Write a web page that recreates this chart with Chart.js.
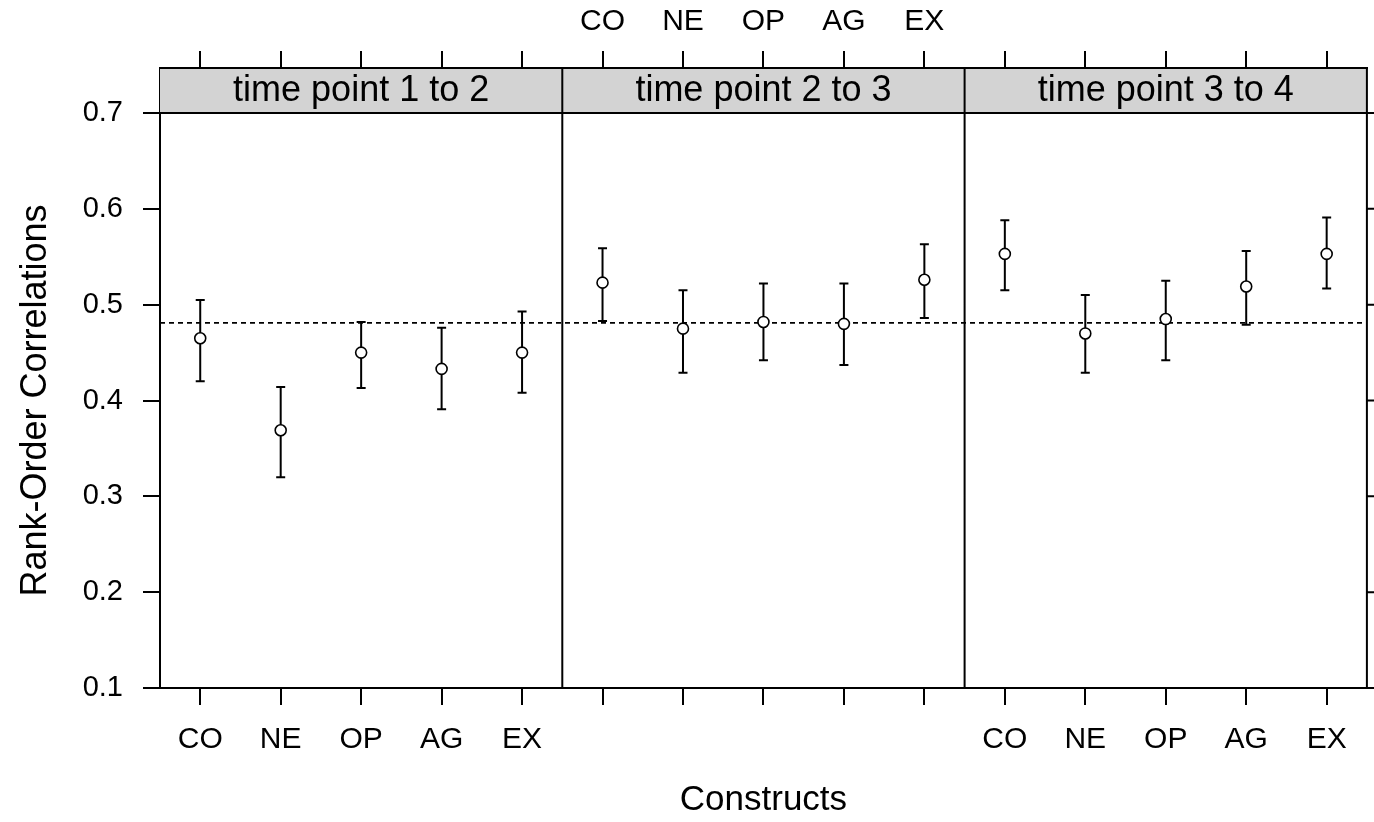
<!DOCTYPE html>
<html>
<head>
<meta charset="utf-8">
<script src="https://cdn.jsdelivr.net/npm/chart.js@4.4.1/dist/chart.umd.min.js"></script>
<style>
  html, body { margin: 0; padding: 0; background: #fff; }
  #wrap { width: 1374px; height: 822px; }
</style>
</head>
<body>
<div id="wrap"><canvas id="rankChart" width="1374" height="822"></canvas></div>
<script>
const constructs = ["CO", "NE", "OP", "AG", "EX"];
const panels = ["time point 1 to 2", "time point 2 to 3", "time point 3 to 4"];

// point estimates and interval bounds per panel
const r12 = [0.465, 0.369, 0.450, 0.433, 0.450];
const lo12 = [0.420, 0.320, 0.413, 0.391, 0.408];
const hi12 = [0.505, 0.414, 0.482, 0.476, 0.493];

const r23 = [0.523, 0.475, 0.482, 0.480, 0.526];
const lo23 = [0.483, 0.429, 0.442, 0.437, 0.486];
const hi23 = [0.559, 0.515, 0.522, 0.522, 0.563];

const r34 = [0.553, 0.470, 0.485, 0.519, 0.553];
const lo34 = [0.515, 0.429, 0.442, 0.479, 0.517];
const hi34 = [0.588, 0.510, 0.525, 0.556, 0.591];

const meanLine = 0.481;
const yTicks = [0.1, 0.2, 0.3, 0.4, 0.5, 0.6, 0.7];
const yTitle = "Rank-Order Correlations";

const labels = [...constructs, ...constructs, ...constructs];
const values = [...r12, ...r23, ...r34];
const lows = [...lo12, ...lo23, ...lo34];
const highs = [...hi12, ...hi23, ...hi34];

const FONT = '"Liberation Sans", Arial, sans-serif';
const INK = "#000";

const mid = (xs, a, b) => (xs.getPixelForValue(a) + xs.getPixelForValue(b)) / 2;

const errorBars = {
  id: "errorBars",
  beforeDatasetsDraw(chart) {
    const { ctx, chartArea: area, scales: { x: xs, y: ys } } = chart;
    ctx.save();
    // dashed reference line
    ctx.strokeStyle = INK;
    ctx.lineWidth = 1.6;
    ctx.setLineDash([5, 4]);
    const yr = ys.getPixelForValue(meanLine);
    ctx.beginPath();
    ctx.moveTo(area.left, yr);
    ctx.lineTo(area.right, yr);
    ctx.stroke();
    ctx.setLineDash([]);
    // whiskers
    ctx.lineWidth = 2;
    values.forEach((v, i) => {
      const x = xs.getPixelForValue(i);
      const yl = ys.getPixelForValue(lows[i]);
      const yh = ys.getPixelForValue(highs[i]);
      ctx.beginPath();
      ctx.moveTo(x, yl); ctx.lineTo(x, yh);
      ctx.moveTo(x - 4.5, yl); ctx.lineTo(x + 4.5, yl);
      ctx.moveTo(x - 4.5, yh); ctx.lineTo(x + 4.5, yh);
      ctx.stroke();
    });
    ctx.restore();
  }
};

const panelFrame = {
  id: "panelFrame",
  afterDraw(chart) {
    const { ctx, chartArea: area, scales: { x: xs, y: ys } } = chart;
    const stripBottom = ys.getPixelForValue(0.7);
    ctx.save();
    ctx.lineWidth = 2;
    ctx.strokeStyle = INK;
    panels.forEach((name, p) => {
      const l = p === 0 ? area.left : mid(xs, 5 * p - 1, 5 * p);
      const r = p === panels.length - 1 ? area.right : mid(xs, 5 * p + 4, 5 * p + 5);
      ctx.fillStyle = "#d3d3d3";
      ctx.fillRect(l, area.top, r - l, stripBottom - area.top);
      ctx.fillStyle = INK;
      ctx.font = "36px " + FONT;
      ctx.textAlign = "center";
      ctx.textBaseline = "middle";
      ctx.fillText(name, (l + r) / 2, (area.top + stripBottom) / 2 + 1);
    });
    ctx.beginPath();
    ctx.moveTo(area.left, stripBottom); ctx.lineTo(area.right, stripBottom);
    ctx.moveTo(area.left, area.top); ctx.lineTo(area.right, area.top);
    ctx.moveTo(area.right, area.top); ctx.lineTo(area.right, area.bottom);
    [[4, 5], [9, 10]].forEach(([a, b]) => {
      const xm = mid(xs, a, b);
      ctx.moveTo(xm, area.top); ctx.lineTo(xm, area.bottom);
    });
    // right-hand ticks
    yTicks.forEach(v => {
      const y = ys.getPixelForValue(v);
      ctx.moveTo(area.right, y); ctx.lineTo(area.right + 17, y);
    });
    ctx.stroke();

    // y title, centred on the panel body (below the strips)
    const yc = (ys.getPixelForValue(yTicks[0]) + ys.getPixelForValue(yTicks[yTicks.length - 1])) / 2;
    ctx.translate(36, yc);
    ctx.rotate(-Math.PI / 2);
    ctx.fillStyle = INK;
    ctx.font = "36px " + FONT;
    ctx.textAlign = "center";
    ctx.textBaseline = "middle";
    ctx.fillText(yTitle, 0, 0);
    ctx.restore();
  }
};

new Chart(document.getElementById("rankChart"), {
  type: "line",
  data: {
    labels: labels,
    datasets: [{
      data: values,
      showLine: false,
      pointStyle: "circle",
      pointRadius: 5.5,
      pointBorderWidth: 1.6,
      pointBorderColor: INK,
      pointBackgroundColor: "#fff"
    }]
  },
  options: {
    responsive: false,
    animation: false,
    devicePixelRatio: 1,
    layout: { padding: { left: 0, right: -4, top: 0, bottom: 0 } },
    plugins: { legend: { display: false }, tooltip: { enabled: false } },
    scales: {
      x: {
        type: "category",
        position: "bottom",
        offset: true,
        afterFit: s => { s.height = 134; },
        border: { display: true, color: INK, width: 2 },
        grid: { drawOnChartArea: false, offset: false, color: INK, lineWidth: 2, tickLength: 17 },
        ticks: {
          color: INK, font: { family: FONT, size: 30 }, padding: 17,
          autoSkip: false, maxRotation: 0,
          callback: function (v, i) { return (i < 5 || i >= 10) ? this.getLabelForValue(v) : ""; }
        },
        title: { display: true, text: "Constructs", color: INK, font: { family: FONT, size: 35 }, padding: { top: 0, bottom: 1 } }
      },
      xTop: {
        type: "category",
        position: "top",
        offset: true,
        afterFit: s => { s.height = 68; },
        border: { display: true, color: INK, width: 2 },
        grid: { drawOnChartArea: false, offset: false, color: INK, lineWidth: 2, tickLength: 17 },
        ticks: {
          color: INK, font: { family: FONT, size: 30 }, padding: 11,
          autoSkip: false, maxRotation: 0,
          callback: function (v, i) { return (i >= 5 && i < 10) ? this.getLabelForValue(v) : ""; }
        }
      },
      y: {
        type: "linear",
        position: "left",
        min: 0.1,
        max: 0.747,
        afterFit: s => { s.width = 160; },
        afterBuildTicks: s => { s.ticks = yTicks.map(v => ({ value: v })); },
        border: { display: true, color: INK, width: 2 },
        grid: { drawOnChartArea: false, color: INK, lineWidth: 2, tickLength: 17 },
        ticks: {
          color: INK, font: { family: FONT, size: 29 }, padding: 20,
          callback: v => v.toFixed(1)
        },
        title: { display: false }
      }
    }
  },
  plugins: [errorBars, panelFrame]
});
</script>
</body>
</html>
